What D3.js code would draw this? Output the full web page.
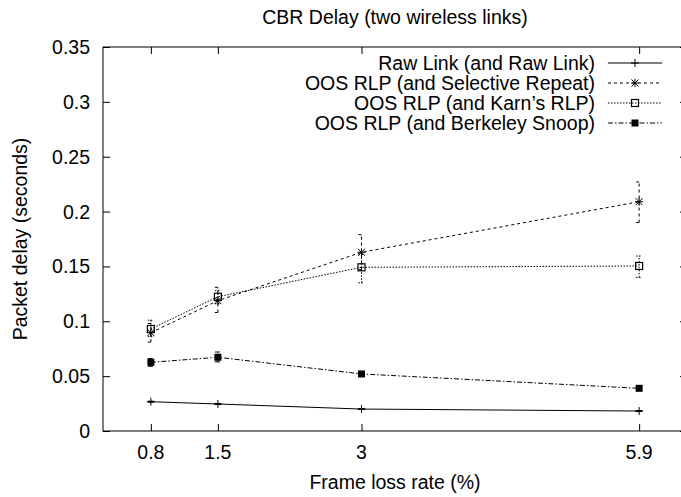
<html>
  <head>
    <meta content="text/html; charset=utf-8" http-equiv="Content-Type">
    <style>
    body { margin: 0; background: white; }
    text { font-family: 'Liberation Sans', Arial, sans-serif; font-size: 19.5px; fill: black; }
    </style>
  </head>
  <body>
    <svg id="svg"></svg>

<script src="https://d3js.org/d3.v7.min.js"></script>
<script>

// frame loss rates on the x axis
const lossRates = [0.8, 1.5, 3, 5.9];
const xTickLabels = ["0.8", "1.5", "3", "5.9"];
const yTicks = [0, 0.05, 0.1, 0.15, 0.2, 0.25, 0.3, 0.35];

const seriesNames = [
  "Raw Link (and Raw Link)",
  "OOS RLP (and Selective Repeat)",
  "OOS RLP (and Karn\u2019s RLP)",
  "OOS RLP (and Berkeley Snoop)"
];

const rawLink      = [0.0267, 0.0246, 0.0200, 0.0182];
const rawLinkLow   = [0.0262, 0.0241, 0.0196, 0.0178];
const rawLinkHigh  = [0.0272, 0.0251, 0.0204, 0.0186];

const selRepeat     = [0.0896, 0.1188, 0.1629, 0.2090];
const selRepeatLow  = [0.0810, 0.1080, 0.1470, 0.1900];
const selRepeatHigh = [0.0980, 0.1310, 0.1790, 0.2270];

const karn     = [0.0930, 0.1224, 0.1492, 0.1504];
const karnLow  = [0.0860, 0.1160, 0.1350, 0.1400];
const karnHigh = [0.1010, 0.1280, 0.1610, 0.1595];

const snoop     = [0.0626, 0.0672, 0.0520, 0.0389];
const snoopLow  = [0.0590, 0.0630, 0.0510, 0.0380];
const snoopHigh = [0.0660, 0.0720, 0.0530, 0.0398];

const W = 681, H = 497;
const plotLeft = 103, plotRight = 687, plotTop = 47, plotBottom = 431;

const svg = d3.select("#svg")
    .attr("width", W)
    .attr("height", H);

const xScale = d3.scaleLinear().domain([0.3, 6.4]).range([plotLeft, plotRight]);
const yScale = d3.scaleLinear().domain([0, 0.35]).range([plotBottom, plotTop]);

// frame
svg.append("rect")
    .attr("x", plotLeft).attr("y", plotTop)
    .attr("width", plotRight - plotLeft).attr("height", plotBottom - plotTop)
    .attr("fill", "none").attr("stroke", "black").attr("stroke-width", 1);

// ticks on all four sides, pointing inward
const tl = 7;
svg.append("g")
    .attr("transform", `translate(${plotLeft}, 0)`)
    .call(d3.axisRight(yScale).tickValues(yTicks).tickSize(tl).tickFormat(""))
    .call(g => g.select(".domain").remove());
svg.append("g")
    .attr("transform", `translate(${plotRight}, 0)`)
    .call(d3.axisLeft(yScale).tickValues(yTicks).tickSize(tl).tickFormat(""))
    .call(g => g.select(".domain").remove());
svg.append("g")
    .attr("transform", `translate(0, ${plotBottom})`)
    .call(d3.axisTop(xScale).tickValues(lossRates).tickSize(tl).tickFormat(""))
    .call(g => g.select(".domain").remove());
svg.append("g")
    .attr("transform", `translate(0, ${plotTop})`)
    .call(d3.axisBottom(xScale).tickValues(lossRates).tickSize(tl).tickFormat(""))
    .call(g => g.select(".domain").remove());

// tick labels
svg.selectAll(".ylab")
    .data(yTicks)
    .enter().append("text")
    .attr("x", 90)
    .attr("y", d => yScale(d) + 7)
    .attr("text-anchor", "end")
    .text(d => String(+d.toFixed(2)));

svg.selectAll(".xlab")
    .data(lossRates)
    .enter().append("text")
    .attr("x", d => xScale(d))
    .attr("y", 459)
    .attr("text-anchor", "middle")
    .text((d, i) => xTickLabels[i]);

// titles
svg.append("text")
    .attr("x", (plotLeft + plotRight) / 2).attr("y", 24)
    .attr("text-anchor", "middle")
    .text("CBR Delay (two wireless links)");

svg.append("text")
    .attr("x", (plotLeft + plotRight) / 2).attr("y", 489)
    .attr("text-anchor", "middle")
    .text("Frame loss rate (%)");

svg.append("text")
    .attr("transform", `translate(27, ${(plotTop + plotBottom) / 2}) rotate(-90)`)
    .attr("text-anchor", "middle")
    .text("Packet delay (seconds)");

// markers
function drawMarker(g, kind, x, y) {
  if (kind === "plus" || kind === "star") {
    g.append("path")
      .attr("d", `M${x - 4},${y}H${x + 4}M${x},${y - 4}V${y + 4}`)
      .attr("stroke", "black").attr("stroke-width", 1).attr("fill", "none");
  }
  if (kind === "star") {
    g.append("path")
      .attr("d", `M${x - 3.5},${y - 3.5}L${x + 3.5},${y + 3.5}M${x - 3.5},${y + 3.5}L${x + 3.5},${y - 3.5}`)
      .attr("stroke", "black").attr("stroke-width", 1).attr("fill", "none");
  }
  if (kind === "box") {
    g.append("rect")
      .attr("x", x - 3.5).attr("y", y - 3.5).attr("width", 7).attr("height", 7)
      .attr("stroke", "black").attr("stroke-width", 1.2).attr("fill", "none");
  }
  if (kind === "fbox") {
    g.append("rect")
      .attr("x", x - 3.5).attr("y", y - 3.5).attr("width", 7).attr("height", 7)
      .attr("fill", "black");
  }
}

const series = [
  { values: rawLink, low: rawLinkLow, high: rawLinkHigh, dash: null, marker: "plus" },
  { values: selRepeat, low: selRepeatLow, high: selRepeatHigh, dash: "3,3", marker: "star" },
  { values: karn, low: karnLow, high: karnHigh, dash: "1.5,1.5", marker: "box" },
  { values: snoop, low: snoopLow, high: snoopHigh, dash: "5,2,1.5,2", marker: "fbox" }
];

const line = d3.line()
    .x((d, i) => xScale(lossRates[i]))
    .y(d => yScale(d));

const chart = svg.append("g");

series.forEach(function(s) {
  const g = chart.append("g");

  // error bars
  lossRates.forEach(function(r, i) {
    const x = xScale(r);
    const y1 = yScale(s.low[i]), y2 = yScale(s.high[i]);
    g.append("path")
      .attr("d", `M${x},${y1}V${y2}M${x - 3},${y1}H${x + 3}M${x - 3},${y2}H${x + 3}`)
      .attr("fill", "none").attr("stroke", "black").attr("stroke-width", 1)
      .attr("stroke-dasharray", s.dash);
  });

  g.append("path")
    .datum(s.values)
    .attr("fill", "none")
    .attr("stroke", "black")
    .attr("stroke-width", 1)
    .attr("stroke-dasharray", s.dash)
    .attr("d", line);

  s.values.forEach(function(v, i) {
    drawMarker(g, s.marker, xScale(lossRates[i]), yScale(v));
  });
});

// legend
const legend = svg.append("g");
series.forEach(function(s, i) {
  const y = 63 + i * 20;
  legend.append("text")
    .attr("x", 595).attr("y", y + 7)
    .attr("text-anchor", "end")
    .text(seriesNames[i]);
  legend.append("line")
    .attr("x1", 608).attr("x2", 662).attr("y1", y).attr("y2", y)
    .attr("stroke", "black").attr("stroke-width", 1)
    .attr("stroke-dasharray", s.dash);
  drawMarker(legend, s.marker, 635, y);
});

</script>
</body>
</html>
